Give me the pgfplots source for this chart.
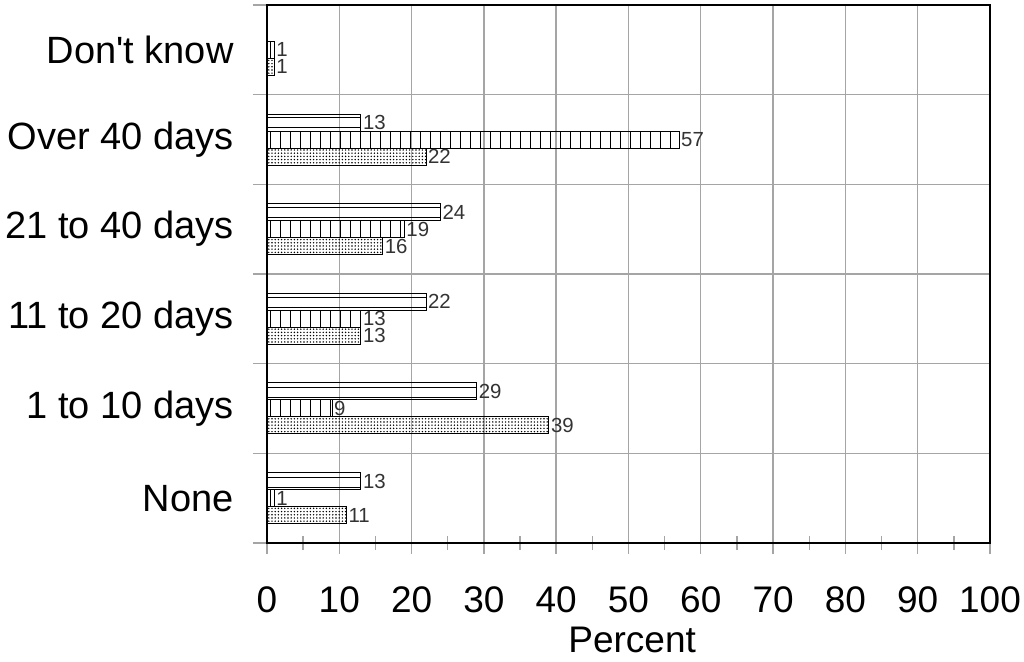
\documentclass[border=0pt]{standalone}
\usepackage{pgfplots}
\pgfplotsset{compat=1.18}
\usepackage{fontspec}
\setmainfont{Liberation Sans}
\usetikzlibrary{patterns.meta}
\definecolor{gridgray}{RGB}{165,165,165}
\begin{document}
\begin{tikzpicture}
\begin{axis}[
  at={(0,0)}, anchor=south west,
  scale only axis, width=361.5pt, height=269pt,
  /pgf/number format/assume math mode=true,
  xmin=0, xmax=100, ymin=-0.5, ymax=5.5,
  xtick={0,10,...,100},
  xticklabels={0,10,20,30,40,50,60,70,80,90,100},
  minor x tick num=1,
  ytick={0,1,2,3,4,5},
  yticklabels={None,1 to 10 days,11 to 20 days,21 to 40 days,Over 40 days,Don\textquotesingle t know},
  minor ytick={-0.5,0.5,1.5,2.5,3.5,4.5,5.5},
  xmajorgrids, yminorgrids,
  major grid style={gridgray, line width=0.7pt},
  minor grid style={gridgray, line width=0.7pt},
  tick pos=left,
  xtick align=center, ytick align=outside,
  major tick length=11pt, minor tick length=7pt,
  tick style={gridgray, line width=0.7pt},
  minor tick style={gridgray, line width=0.7pt},
  major y tick style={draw=none},
  axis line style={black, line width=0.6pt},
  ticklabel style={font=\fontsize{18.5}{20}\selectfont},
  xticklabel style={inner sep=0pt, yshift=-16pt},
  yticklabel style={inner sep=0pt, xshift=-5.5pt, font=\fontsize{19}{20}\selectfont},
  xlabel={Percent},
  xlabel style={font=\fontsize{18.5}{20}\selectfont, inner sep=0pt, anchor=north, at={(axis description cs:0.505,0)}, yshift=-42pt},
  xbar, bar width=8.5pt,
  nodes near coords,
  nodes near coords style={font=\fontsize{10.2}{11}\selectfont, inner xsep=0.8pt, inner ysep=0.2pt, anchor=west, text=black!80},
]
\addplot[draw=black, line width=0.5pt, bar shift=8.5pt,
  pattern={Lines[angle=0,distance=5pt,yshift=2pt,line width=0.5pt]}]
  coordinates {(13,0) (29,1) (22,2) (24,3) (13,4)};
\addplot[draw=black, line width=0.5pt, bar shift=0pt,
  pattern={Lines[angle=90,distance=5pt,line width=0.5pt]}]
  coordinates {(1,0) (9,1) (13,2) (19,3) (57,4) (1,5)};
\addplot[draw=black, line width=0.5pt, bar shift=-8.5pt,
  pattern={Dots[distance=1.6pt,radius=0.4pt]}]
  coordinates {(11,0) (39,1) (13,2) (16,3) (22,4) (1,5)};
\end{axis}
\pgfresetboundingbox
\path (-133.5pt,-59.5pt) rectangle (378.5pt,271.5pt);
\end{tikzpicture}
\end{document}
